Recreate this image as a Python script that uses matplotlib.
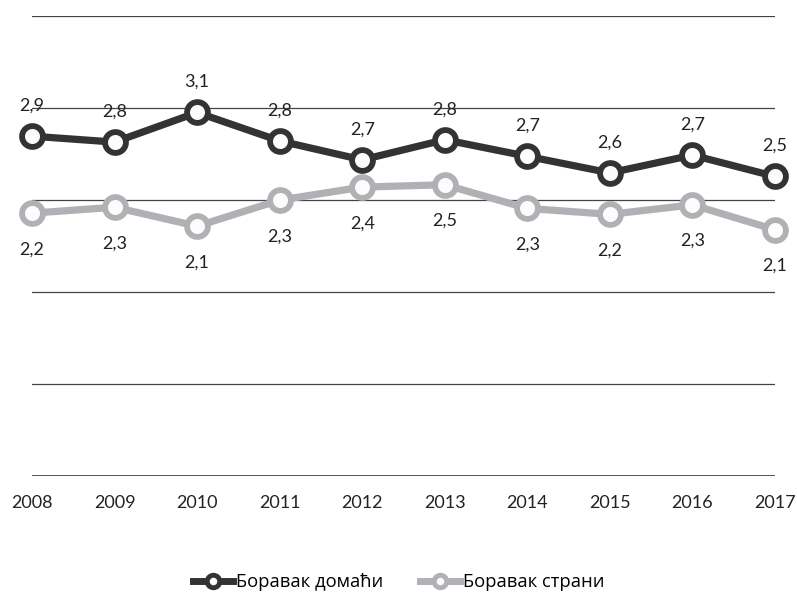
import matplotlib.pyplot as plt
import numpy as np

# Data
years = ['2008', '2009', '2010', '2011', '2012', '2013', '2014', '2015', '2016', '2017']
domaci = [2.87, 2.82, 3.07, 2.83, 2.67, 2.84, 2.70, 2.56, 2.71, 2.53]
strani = [2.22, 2.27, 2.11, 2.33, 2.44, 2.46, 2.26, 2.21, 2.29, 2.08]
names = ['Боравак домаћи', 'Боравак страни']
#!#

# Style
dark = '#333333'
grey = '#b1b1b5'
ymax = 3.885
plt.rcParams['font.family'] = ['Lato', 'DejaVu Sans']
#!#

# Plot
fig = plt.figure(figsize=(7.97, 5.93), dpi=100)
ax = fig.add_axes([32/797, 117/593, 743/797, 460/593])
x = np.arange(len(years))

for yv in np.linspace(0, ymax, 6)[1:]:
    ax.axhline(yv, color='#444444', lw=0.9, zorder=1)
ax.axhline(0, color='#222222', lw=1.8, zorder=1)

for vals, col, name, below in [(domaci, dark, names[0], False), (strani, grey, names[1], True)]:
    ax.plot(x, vals, color=col, lw=5.2, marker='o', markersize=15,
            markerfacecolor='#fcfcfc', markeredgecolor=col, markeredgewidth=4.2,
            label=name, clip_on=False, zorder=3)
    for xi, v in zip(x, vals):
        lbl = f'{v:.1f}'.replace('.', ',')
        ax.annotate(lbl, (xi, v), xytext=(0, -26 if below else 22),
                    textcoords='offset points', ha='center', va='center',
                    fontsize=13, color='#222222', zorder=4)

ax.set_xlim(0, len(years) - 1)
ax.set_ylim(0, ymax)
ax.set_xticks(x)
ax.set_xticklabels(years, fontsize=13, color='#222222')
ax.tick_params(axis='x', length=0, pad=14)
ax.set_yticks([])
for s in ax.spines.values():
    s.set_visible(False)

leg = fig.legend(loc='center', bbox_to_anchor=(0.5, 11/593), ncol=2,
                 frameon=False, handlelength=2.2, columnspacing=2.0,
                 handletextpad=0.15, prop={'family': ['Open Sans', 'DejaVu Sans'], 'size': 13.2})
for h in leg.legend_handles:
    h.set_markersize(9)
    h.set_markeredgewidth(3.5)
    h.set_linewidth(5)

fig.savefig('out.png', dpi=100)
#!#
